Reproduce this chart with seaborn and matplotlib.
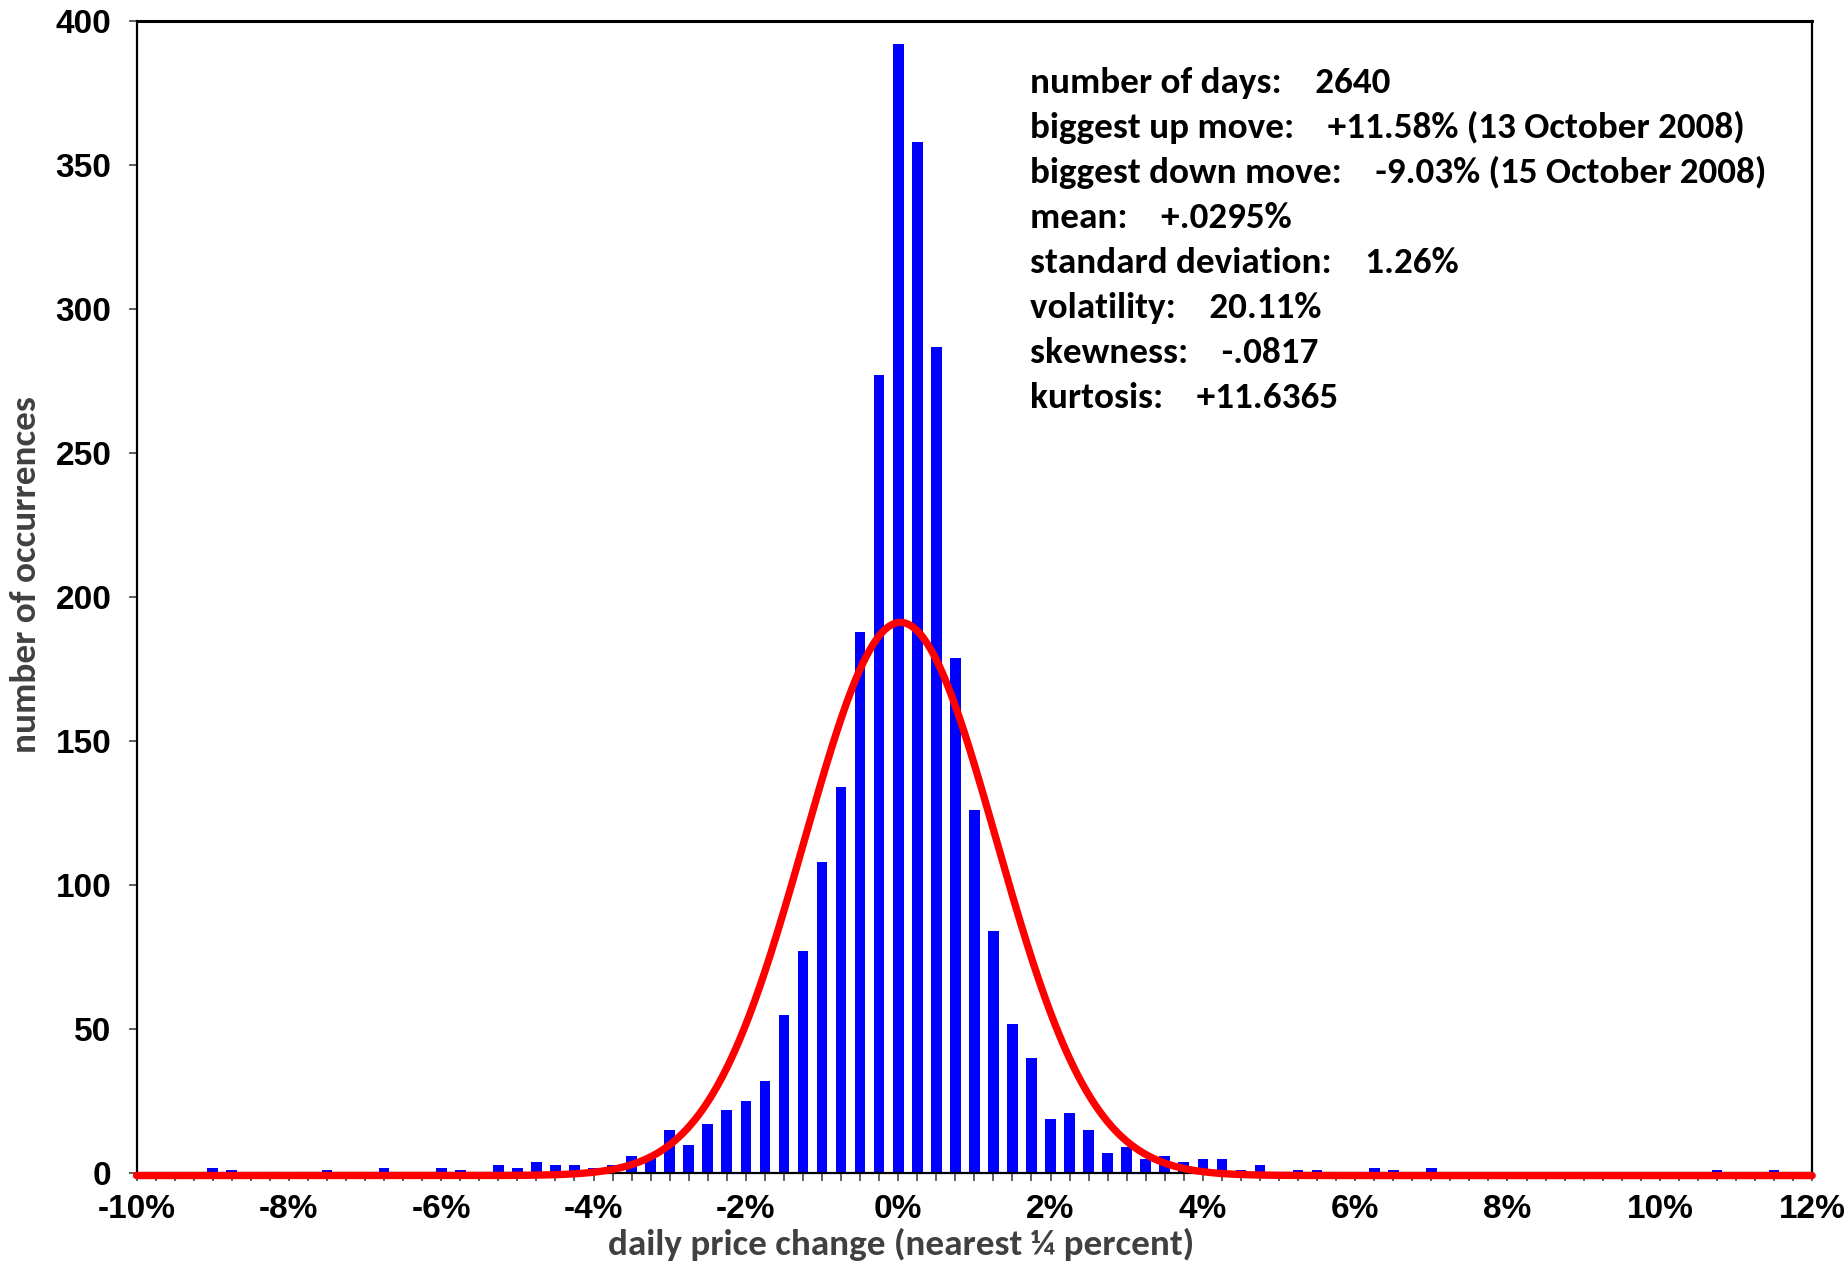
import numpy as np
import pandas as pd
import matplotlib
matplotlib.use("Agg")
import matplotlib.pyplot as plt
import matplotlib.transforms as mtransforms
import seaborn as sns
from matplotlib import font_manager

# Daily price changes rounded to the nearest quarter percent, with their counts
change_pct = [-9.0, -8.75, -7.5, -6.75, -6.0, -5.75, -5.25, -5.0, -4.75, -4.5,
              -4.25, -4.0, -3.75, -3.5, -3.25, -3.0, -2.75, -2.5, -2.25, -2.0,
              -1.75, -1.5, -1.25, -1.0, -0.75, -0.5, -0.25, 0.0, 0.25, 0.5,
              0.75, 1.0, 1.25, 1.5, 1.75, 2.0, 2.25, 2.5, 2.75, 3.0,
              3.25, 3.5, 3.75, 4.0, 4.25, 4.5, 4.75, 5.25, 5.5, 6.25,
              6.5, 7.0, 10.75, 11.5]
occurrences = [2, 1, 1, 2, 2, 1, 3, 2, 4, 3,
               3, 2, 3, 6, 6, 15, 10, 17, 22, 25,
               32, 55, 77, 108, 134, 188, 277, 392, 358, 287,
               179, 126, 84, 52, 40, 19, 21, 15, 7, 9,
               5, 6, 4, 5, 5, 1, 3, 1, 1, 2,
               1, 2, 1, 1]

# Summary statistics of the series
mean_pct = 0.0295
std_pct = 1.26
curve_peak = 192

stat_labels = ["number of days:", "biggest up move:", "biggest down move:", "mean:",
               "standard deviation:", "volatility:", "skewness:", "kurtosis:"]
stat_values = ["2640", "+11.58% (13 October 2008)", "-9.03% (15 October 2008)", "+.0295%",
               "1.26%", "20.11%", "-.0817", "+11.6365"]

x_ticks = [-10, -8, -6, -4, -2, 0, 2, 4, 6, 8, 10, 12]
x_tick_labels = [f"{t}%" for t in x_ticks]
y_ticks = [0, 50, 100, 150, 200, 250, 300, 350, 400]


def pick_font(candidates):
    names = {f.name for f in font_manager.fontManager.ttflist}
    for c in candidates:
        if c in names:
            return c
    return "DejaVu Sans"


sns.set_style("ticks")
tick_font = pick_font(["Liberation Sans Narrow", "Liberation Sans", "Arial"])
text_font = pick_font(["Carlito", "Calibri", "Lato", "Open Sans"])
plt.rcParams["font.family"] = [text_font, "DejaVu Sans"]

fig = plt.figure(figsize=(18.45, 12.63), dpi=100)
ax = fig.add_axes([0.074, 0.0710, 0.9082, 0.9124])

df = pd.DataFrame({"change": change_pct, "count": occurrences})
sns.barplot(data=df, x="change", y="count", native_scale=True, orient="x",
            color="#0000ff", saturation=1, width=0.56, linewidth=0,
            errorbar=None, ax=ax, zorder=2)

# Fitted normal curve from the mean and standard deviation
xs = np.linspace(-10, 12, 2201)
ys = curve_peak * np.exp(-0.5 * ((xs - mean_pct) / std_pct) ** 2)
sns.lineplot(x=xs, y=ys, color="#ff0000", linewidth=5.3, ax=ax, zorder=4,
             clip_on=False)
curve = ax.lines[-1]
curve.set_transform(mtransforms.offset_copy(ax.transData, fig=fig, y=-1.6,
                                            units="points"))

ax.set_xlim(-10, 12)
ax.set_ylim(0, 400)

ax.set_xticks(x_ticks)
ax.set_xticklabels(x_tick_labels)
ax.set_xticks(np.arange(-10, 12.01, 0.25), minor=True)
ax.set_yticks(y_ticks)
ax.set_yticklabels([str(t) for t in y_ticks])

for lab in ax.get_xticklabels() + ax.get_yticklabels():
    lab.set_fontfamily(tick_font)
    lab.set_fontweight("bold")
    lab.set_fontsize(24)
    lab.set_color("black")

ax.tick_params(axis="x", which="both", direction="out", length=6, width=1.1,
               color="#333333", pad=9)
ax.tick_params(axis="y", which="major", direction="out", length=6, width=1.1,
               color="#333333", pad=12)

for side in ["left", "right", "top", "bottom"]:
    ax.spines[side].set_visible(True)
    ax.spines[side].set_color("black")
    ax.spines[side].set_linewidth(1.6)
ax.spines["top"].set_linewidth(2.2)

ax.set_xlabel("daily price change (nearest \u00bc percent)", fontsize=26.7,
              fontweight="bold", color="#404040", va="center")
ax.xaxis.set_label_coords(0.4563, -0.0616)
ax.set_ylabel("number of occurrences", fontsize=26.8, fontweight="bold",
              color="#404040", va="center", ha="center")
ax.yaxis.set_label_coords(-0.066, 0.520)

# Statistics block in the upper right
for i, (lab, val) in enumerate(zip(stat_labels, stat_values)):
    y_px = 93 + 45 * i
    fig.text(1030 / 1845, 1 - y_px / 1263, f"{lab}    {val}", fontsize=26.7,
             fontweight="bold", color="black", ha="left", va="baseline")

fig.savefig("out.png", dpi=100)
